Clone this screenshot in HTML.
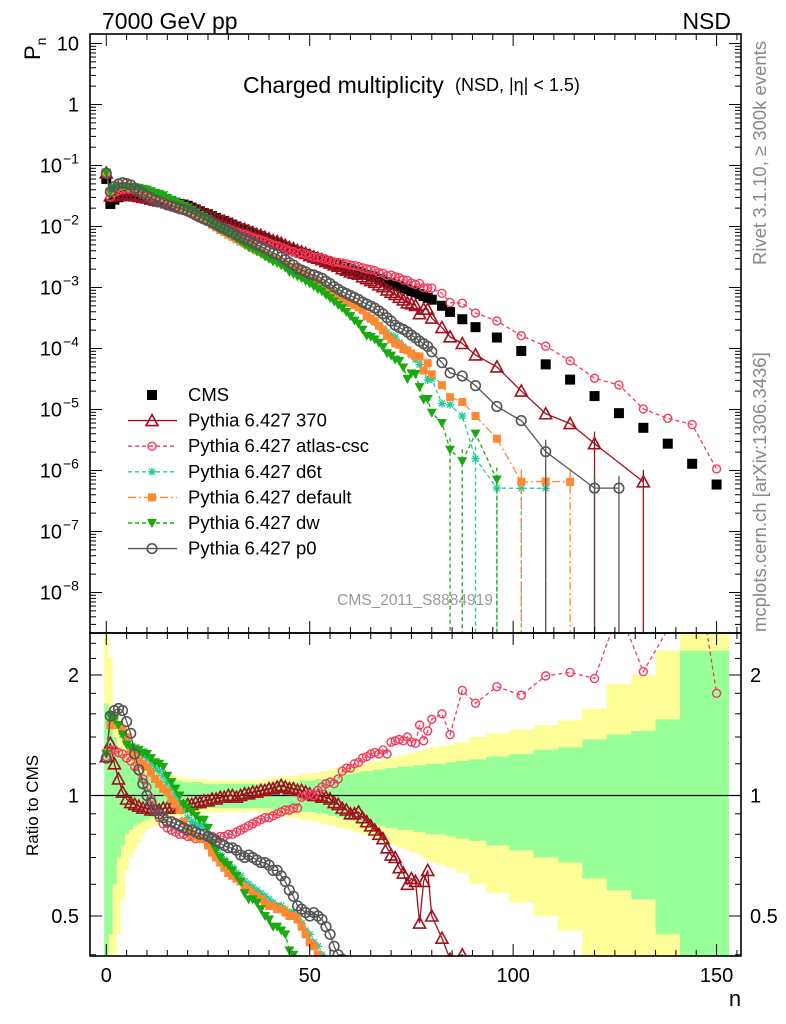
<!DOCTYPE html>
<html><head><meta charset="utf-8"><style>
html,body{margin:0;padding:0;background:#fff;width:786px;height:1024px;overflow:hidden;}
svg{display:block;font-family:"Liberation Sans",sans-serif;overflow:hidden;}
</style></head><body>
<svg id="chart" width="786" height="1024" viewBox="0 0 786 1024" xmlns="http://www.w3.org/2000/svg">
<defs>
<clipPath id="clipTop"><rect x="90" y="34" width="651" height="599"/></clipPath>
<clipPath id="clipRat"><rect x="90" y="633" width="651" height="323"/></clipPath>
</defs>
<text x="102" y="29" font-size="23">7000 GeV pp</text>
<text x="731" y="29" font-size="23" text-anchor="end">NSD</text>
<text x="243" y="93" font-size="23">Charged multiplicity</text>
<text x="455" y="91" font-size="18">(NSD, |η| &lt; 1.5)</text>
<text transform="translate(766,265) rotate(-90)" font-size="18.5" fill="#888">Rivet 3.1.10, ≥ 300k events</text>
<text transform="translate(766,632) rotate(-90)" font-size="18.5" fill="#888">mcplots.cern.ch [arXiv:1306.3436]</text>
<text x="415" y="605" font-size="15.5" fill="#999" text-anchor="middle">CMS_2011_S8884919</text>
<text transform="translate(40,60) rotate(-90)" font-size="22">P<tspan font-size="14" dy="6">n</tspan></text>
<text transform="translate(38,856) rotate(-90)" font-size="17">Ratio to CMS</text>
<text x="735" y="1006" font-size="22" text-anchor="middle">n</text>
<g id="bands"></g>
<g id="ratioSeries" clip-path="url(#clipRat)"></g>
<g id="topSeries" clip-path="url(#clipTop)"></g>
<g id="axes"></g>
<g id="legend"></g>
</svg>
<script>
// ---------------- data ----------------
const nTail = [82.5,84.5,87.5,90.75,96,102,108,114,120,126,132,138,144,150];
const cmsLog10 = [-1.22,-1.63,-1.56,-1.52,-1.495,-1.48,-1.475,-1.475,-1.48,-1.49,
-1.50,-1.515,-1.53,-1.545,-1.56,-1.58,-1.595,-1.61,-1.63,-1.64,
-1.66,-1.69,-1.72,-1.75,-1.78,-1.80,-1.83,-1.86,-1.89,-1.91,
-1.94,-1.97,-2.0,-2.03,-2.05,-2.08,-2.11,-2.14,-2.16,-2.19,
-2.22,-2.25,-2.27,-2.30,-2.33,-2.36,-2.38,-2.41,-2.43,-2.45,
-2.48,-2.50,-2.52,-2.54,-2.57,-2.59,-2.61,-2.63,-2.66,-2.68,
-2.70,-2.72,-2.74,-2.77,-2.79,-2.81,-2.83,-2.86,-2.88,-2.91,
-2.93,-2.96,-2.98,-3.01,-3.03,-3.06,-3.08,-3.11,-3.14,-3.17,-3.20,
-3.30,-3.40,-3.52,-3.65,-3.82,-4.04,-4.26,-4.51,-4.78,-5.06,-5.30,-5.56,-5.89,-6.23];
const errGreen = [.7,.55,.4,.3,.25,.2,.18,.16,.15,.14,.13,
.12,.11,.11,.1,.1,.09,.09,.09,.08,.08,
.08,.08,.08,.07,.07,.07,.07,.07,.07,.07,.07,.07,.07,.07,.07,.07,.07,.07,.07,.07,
.08,.08,.08,.08,.08,.08,.08,.09,.09,.09,.09,.1,.1,.1,.11,.11,.12,.12,.13,.13,
.14,.14,.15,.15,.15,.16,.16,.16,.17,.17,.17,.18,.18,.18,.18,.19,.19,.19,.2,.2,
.2,.21,.22,.23,.25,.27,.3,.32,.38,.42,.45,.55,1.3,1.3];
const errYellow = [1.6,1.2,.6,.55,.45,.35,.3,.27,.24,.2,.18,
.17,.16,.15,.14,.13,.12,.12,.11,.11,.1,
.1,.1,.1,.1,.09,.09,.09,.09,.09,.09,.09,.09,.09,.09,.09,.09,.09,.09,.1,.1,
.11,.11,.11,.12,.12,.12,.12,.13,.13,.13,.14,.14,.15,.15,.16,.16,.17,.17,.18,.18,
.19,.19,.2,.2,.21,.22,.22,.23,.24,.24,.25,.26,.26,.27,.28,.28,.29,.3,.31,.32,
.33,.34,.36,.4,.43,.46,.5,.54,.65,.9,1.0,1.3,2,2];
const ratio370 = [1.25,1.35,1.2,1.1,1.02,0.98,0.96,0.95,0.94,0.93,
0.93,0.92,0.92,0.92,0.93,0.93,0.93,0.93,0.94,0.94,
0.95,0.95,0.96,0.96,0.97,0.97,0.98,0.98,0.99,0.99,
1.0,1.0,0.99,1.0,1.01,1.01,1.02,1.02,1.03,1.03,
1.04,1.04,1.05,1.06,1.05,1.04,1.04,1.03,1.03,1.02,
1.01,1.0,1.0,0.99,0.99,0.98,0.96,0.95,0.93,0.92,
0.9,0.9,0.91,0.88,0.86,0.84,0.82,0.8,0.78,0.74,
0.71,0.7,0.66,0.64,0.6,0.62,0.61,0.48,0.61,0.65,0.5,
0.44,0.39,0.4,0.35,0.33,0.22,0.155,0.19,0.166,null,0.13,null,null,null];
const ratioAtlas = [1.25,1.3,1.3,1.28,1.27,1.24,1.22,1.18,1.15,1.1,
1.05,0.98,0.93,0.88,0.85,0.83,0.82,0.81,0.8,0.8,
0.79,0.79,0.78,0.78,0.78,0.78,0.79,0.78,0.79,0.79,
0.8,0.8,0.81,0.82,0.83,0.84,0.85,0.86,0.87,0.88,
0.88,0.89,0.9,0.91,0.92,0.92,0.93,0.93,0.99,1.0,
1.01,1.0,1.03,1.05,1.07,1.08,1.07,1.1,1.15,1.17,
1.17,1.2,1.21,1.24,1.25,1.27,1.28,1.27,1.3,1.27,
1.36,1.37,1.38,1.37,1.4,1.36,1.35,1.5,1.37,1.45,1.55,
1.6,1.42,1.83,1.7,1.87,1.78,1.99,2.03,1.96,2.9,2.04,2.6,4.4,1.8];
const ratioD6t = [1.28,1.55,1.55,1.5,1.42,1.36,1.32,1.3,1.28,1.26,
1.24,1.2,1.17,1.15,1.12,1.08,1.04,1.0,0.96,0.92,0.88,
0.86,0.85,0.84,
0.84,0.8,0.76,0.73,0.71,0.69,0.67,0.66,0.64,0.63,0.61,0.6,0.59,0.58,0.57,0.56,0.55,0.54,0.53,0.53,
0.52,0.51,0.51,0.5,0.48,0.46,0.45,0.43,0.42,0.4,0.38,0.37,0.35,0.33,0.31,0.3,0.29,0.27,0.26,0.25,
0.2,0.19,0.18,0.17,0.16,0.15,0.14,0.14,0.12,0.11,0.1,0.09,0.08,0.07,0.06,0.045,0.05,
0.025,0.03,0.026,0.007,0.0034,0.0056,0.0093,null,null,null,null,null,null,null];
const ratioDefault = [1.28,1.5,1.55,1.5,1.46,1.4,1.3,1.25,1.22,1.2,
1.18,1.14,1.1,1.07,1.04,1.02,0.98,0.95,0.92,0.86,0.82,
0.8,0.79,0.78,
0.78,0.75,0.72,0.7,0.68,0.66,0.64,0.63,0.62,0.61,0.59,0.58,0.57,0.56,0.55,0.54,0.53,0.53,0.52,0.52,
0.51,0.5,0.5,0.49,0.47,0.45,0.43,0.42,0.4,0.38,0.36,0.34,0.33,0.31,0.3,0.29,0.28,0.27,0.26,0.25,
0.21,0.2,0.19,0.17,0.15,0.13,0.12,0.11,0.11,0.1,0.1,0.095,0.09,0.095,0.06,0.085,0.06,
0.05,0.04,0.044,0.035,0.022,0.0072,0.012,0.021,null,null,null,null,null,null];
const ratioDw = [1.27,1.58,1.55,1.5,1.42,1.34,1.32,1.31,1.3,1.28,
1.27,1.24,1.21,1.2,1.18,1.12,1.08,1.04,1.0,0.95,0.93,
0.91,0.89,0.87,
0.87,0.83,0.76,0.73,0.7,0.68,0.67,0.65,0.63,0.61,0.57,0.55,0.55,0.54,0.52,0.5,0.49,0.47,0.47,0.46,
0.45,0.41,0.4,0.39,0.38,0.36,0.35,0.33,0.31,0.3,0.28,0.26,0.24,0.22,0.21,0.19,0.17,0.15,0.14,0.12,
0.1,0.1,0.095,0.09,0.08,0.068,0.065,0.06,0.06,0.05,0.034,0.045,0.046,0.03,0.02,0.022,0.014,
0.012,0.0055,0.0047,0.018,0.0047,null,null,null,null,null,null,null,null,null];
const ratioP0 = [1.24,1.58,1.63,1.65,1.63,1.53,1.43,1.27,1.16,1.07,
1.0,0.96,0.92,0.9,0.88,0.86,0.86,0.85,0.84,0.83,
0.82,0.82,0.81,0.8,0.8,0.79,0.78,0.77,0.76,0.75,
0.74,0.74,0.73,0.71,0.7,0.71,0.7,0.69,0.68,0.68,
0.67,0.65,0.65,0.63,0.61,0.58,0.56,0.53,0.52,0.51,
0.5,0.51,0.5,0.49,0.47,0.45,0.42,0.4,0.39,0.38,
0.37,0.36,0.35,0.34,0.33,0.32,0.31,0.3,0.28,0.26,
0.24,0.22,0.21,0.21,0.2,0.19,0.18,0.17,0.165,0.16,0.14,
0.117,0.10,0.117,0.11,0.074,0.072,0.037,null,0.031,0.059,null,null,null,null];
const yTopTicks = ["10","1","10","10","10","10","10","10","10","10"];
const yTopExp = [null,null,"−1","−2","−3","−4","−5","−6","−7","−8"];
const xTickLabels = [0,50,100,150];
const ratioTickLabels = [0.5,1,2];

// ---------------- geometry ----------------
const NS="http://www.w3.org/2000/svg";
const X0=90,X1=741,NMIN=-4,NMAX=156;
const TY0=34,TY1=633,RY0=633,RY1=956;
const xs = n => X0+(n-NMIN)*(X1-X0)/(NMAX-NMIN);
const yTop = lg => 43.5+(1-lg)*61;
const yRat = r => r<=0 ? RY1+20 : 795.5-120.5*Math.log2(r);
const nAll=[]; for(let i=0;i<=80;i++) nAll.push(i); nTail.forEach(v=>nAll.push(v));
const edges=[-0.5]; for(let i=0;i<nAll.length-1;i++) edges.push((nAll[i]+nAll[i+1])/2); edges.push(153);

function mk(tag,attrs,parent){const e=document.createElementNS(NS,tag);for(const k in attrs)e.setAttribute(k,attrs[k]);parent.appendChild(e);return e;}

// ---------------- bands ----------------
const gB=document.getElementById('bands');
function band(errs,color,name){
  for(let i=0;i<nAll.length;i++){
    const top=Math.max(RY0,yRat(1+errs[i])), bot=Math.min(RY1,yRat(1-errs[i]));
    const r=mk('rect',{x:xs(edges[i]),y:top,width:xs(edges[i+1])-xs(edges[i])+0.4,height:Math.max(0,bot-top),fill:color},gB);
    
    
  }
}
band(errYellow,'#ffff99','cms-total-uncertainty-band');
band(errGreen,'#99ff99','cms-stat-uncertainty-band');
const unity=mk('line',{x1:X0,x2:X1,y1:yRat(1),y2:yRat(1),stroke:'#000','stroke-width':1.2},gB);



// ---------------- markers ----------------
function marker(g,type,x,y,color,name){
  let e;
  if(type==='sqF'){e=mk('rect',{x:x-5,y:y-5,width:10,height:10,fill:color},g);}
  else if(type==='sqS'){e=mk('rect',{x:x-4,y:y-4,width:8,height:8,fill:color},g);}
  else if(type==='triO'){e=mk('polygon',{points:`${x},${y-6} ${x-6},${y+5} ${x+6},${y+5}`,fill:'none',stroke:color,'stroke-width':1.6},g);}
  else if(type==='triD'){e=mk('polygon',{points:`${x-5},${y-4} ${x+5},${y-4} ${x},${y+5}`,fill:color},g);}
  else if(type==='circO'){e=mk('circle',{cx:x,cy:y,r:4,fill:'none',stroke:color,'stroke-width':1.4},g);}
  else if(type==='circL'){e=mk('circle',{cx:x,cy:y,r:4.8,fill:'none',stroke:color,'stroke-width':1.6},g);}
  else if(type==='star'){e=mk('path',{d:`M${x-4},${y}H${x+4}M${x},${y-4}V${y+4}M${x-3},${y-3}L${x+3},${y+3}M${x-3},${y+3}L${x+3},${y-3}`,stroke:color,'stroke-width':1.4},g);}
  
  
  return e;
}

const series=[
 {key:'370',name:'pythia-370',label:'Pythia 6.427 370',data:ratio370,color:'#a0101e',dash:'',mk:'triO'},
 {key:'atlas',name:'pythia-atlas-csc',label:'Pythia 6.427 atlas-csc',data:ratioAtlas,color:'#f43b5c',dash:'4,3',mk:'circO'},
 {key:'d6t',name:'pythia-d6t',label:'Pythia 6.427 d6t',data:ratioD6t,color:'#20cc99',dash:'4,3',mk:'star'},
 {key:'default',name:'pythia-default',label:'Pythia 6.427 default',data:ratioDefault,color:'#ff8833',dash:'8,3,2,3',mk:'sqS'},
 {key:'dw',name:'pythia-dw',label:'Pythia 6.427 dw',data:ratioDw,color:'#18aa10',dash:'4,3',mk:'triD'},
 {key:'p0',name:'pythia-p0',label:'Pythia 6.427 p0',data:ratioP0,color:'#555555',dash:'',mk:'circL'}
];

const gT=document.getElementById('topSeries'), gR=document.getElementById('ratioSeries');
for(let i=0;i<nAll.length;i++){
  marker(gT,'sqF',xs(nAll[i]),yTop(cmsLog10[i]),'#000','cms-data-point');
}
series.forEach(s=>{
  const ptsT=[],ptsR=[];
  for(let i=0;i<nAll.length;i++){
    const r=s.data[i]; if(r===null||r===undefined) continue;
    const lg=cmsLog10[i]+Math.log10(r);
    ptsT.push([xs(nAll[i]),yTop(lg),lg,nAll[i]]);
    ptsR.push([xs(nAll[i]),yRat(r)]);
  }
  const lt=mk('polyline',{points:ptsT.map(p=>p[0]+','+p[1]).join(' '),fill:'none',stroke:s.color,'stroke-width':1.3,'stroke-dasharray':s.dash},gT);
  
  
  const lr=mk('polyline',{points:ptsR.map(p=>p[0]+','+p[1]).join(' '),fill:'none',stroke:s.color,'stroke-width':1.3,'stroke-dasharray':s.dash},gR);
  
  
  ptsT.forEach(p=>{
    if(p[3]>80 && p[3]<=132 && p[2]<-5.5){
      const eb=mk('line',{x1:p[0],x2:p[0],y1:p[1]-12,y2:TY1,stroke:s.color,'stroke-width':1.3,'stroke-dasharray':s.dash},gT);
      
      
    }
    marker(gT,s.mk,p[0],p[1],s.color,s.name+'-point');
  });
  ptsR.forEach(p=>{ marker(gR,s.mk,p[0],p[1],s.color,s.name+'-ratio-point'); });
});

// ---------------- axes ----------------
const gA=document.getElementById('axes');
function ln(x1,y1,x2,y2,name,w){const l=mk('line',{x1,y1,x2,y2,stroke:'#000','stroke-width':w||1},gA);return l;}
function tx(x,y,s,anchor,size,name){const t=mk('text',{x,y,'text-anchor':anchor,'font-size':size},gA);t.textContent=s;return t;}
const fr1=mk('rect',{x:X0,y:TY0,width:X1-X0,height:TY1-TY0,fill:'none',stroke:'#000','stroke-width':1.6},gA);


const fr2=mk('rect',{x:X0,y:RY0,width:X1-X0,height:RY1-RY0,fill:'none',stroke:'#000','stroke-width':1.6},gA);


for(let n=0;n<=155;n+=5){
  const x=xs(n), big=(n%50===0);
  const L=big?12:6;
  ln(x,TY0,x,TY0+L,'x-tick');ln(x,TY1,x,TY1-L,'x-tick');
  ln(x,RY0,x,RY0+L,'x-tick');ln(x,RY1,x,RY1-L,'x-tick');
}
xTickLabels.forEach(v=>tx(xs(v),982,String(v),'middle',20,'x-tick-label'));
for(let d=1;d>=-9;d--){
  for(let k=1;k<=9;k++){
    const lg=d+Math.log10(k); const y=yTop(lg);
    if(y<TY0||y>TY1) continue;
    const L=k===1?12:6;
    ln(X0,y,X0+L,y,'y-tick');ln(X1,y,X1-L,y,'y-tick');
  }
}
for(let i=0;i<yTopTicks.length;i++){
  const y=yTop(1-i)+7;
  tx(yTopExp[i]?62:79,y,yTopTicks[i],'end',20,'y-tick-label');
  if(yTopExp[i]){
    const e=mk('text',{x:63,y:y-9,'font-size':14},gA);
    e.textContent=yTopExp[i];
    
    
  }
}
[0.4,0.5,0.6,0.7,0.8,0.9,1,1.2,1.4,1.6,1.8,2,2.2,2.4].forEach(r=>{
  const y=yRat(r); const big=(r===0.5||r===1||r===2);
  const L=big?12:6;
  ln(X0,y,X0+L,y,'ratio-y-tick');ln(X1,y,X1-L,y,'ratio-y-tick');
});
ratioTickLabels.forEach(r=>{
  tx(79,yRat(r)+7,String(r),'end',20,'ratio-tick-label-left');
  tx(750,yRat(r)+7,String(r),'start',20,'ratio-tick-label-right');
});

// ---------------- legend ----------------
const gL=document.getElementById('legend');
const legY0=395, legDY=25.6;
marker(gL,'sqF',152,legY0,'#000','legend-cms-marker');
const lt0=mk('text',{x:188,y:legY0+6,'font-size':18.5},gL); lt0.textContent='CMS';


series.forEach((s,i)=>{
  const y=legY0+legDY*(i+1);
  const l=mk('line',{x1:128,x2:177,y1:y,y2:y,stroke:s.color,'stroke-width':1.4,'stroke-dasharray':s.dash},gL);
  
  
  marker(gL,s.mk,152,y,s.color,'legend-'+s.key+'-marker');
  const t=mk('text',{x:188,y:y+6,'font-size':18.5},gL); t.textContent=s.label;
  
  
});
</script>
</body></html>
